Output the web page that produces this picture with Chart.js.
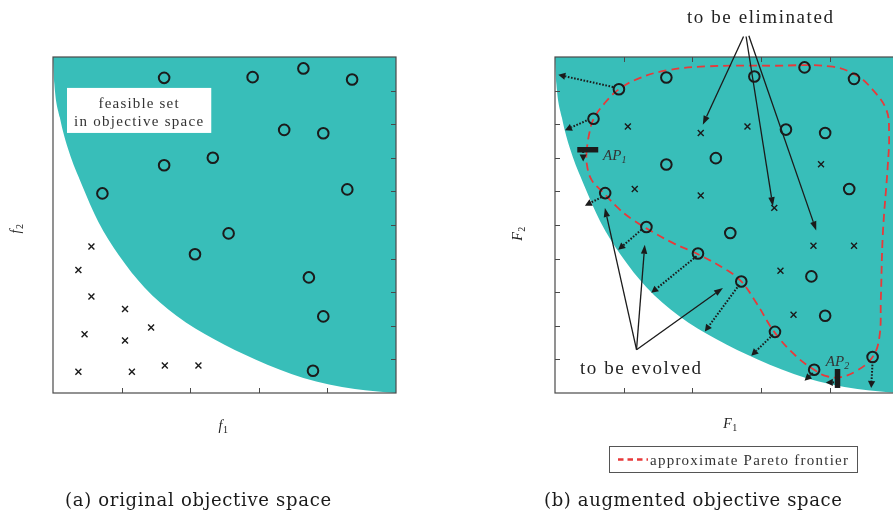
<!DOCTYPE html>
<html>
<head>
<meta charset="utf-8">
<script src="https://cdn.jsdelivr.net/npm/chart.js@4.4.1/dist/chart.umd.min.js"></script>
<style>
  html, body { margin: 0; padding: 0; background: #fff; width: 893px; height: 514px; overflow: hidden; position: relative; }
  canvas { position: absolute; top: 0; }
  #ca { left: 0; }
  #cb { left: 446px; }
</style>
</head>
<body>
<canvas id="ca" width="446" height="514"></canvas>
<canvas id="cb" width="460" height="514"></canvas>
<script>
// ---- axis ticks ----
const TICKS_1 = [1, 2, 3, 4];
const TICKS_2 = [1, 2, 3, 4, 5, 6, 7, 8, 9];

// ---- edge of the feasible set (objective 1, objective 2) ----
const edgeF1 = [0, 0.02, 0.1, 0.23, 0.42, 0.66, 0.96, 1.33, 1.8, 2.35, 2.95, 3.65, 4.4, 5.0];
const edgeF2 = [10, 9.2, 8.2, 7.2, 6.2, 5.1, 4.1, 3.15, 2.3, 1.6, 1.0, 0.45, 0.12, 0];

// ---- (a) original objective space ----
const origSolF1 = [1.62, 2.91, 3.65, 4.36, 3.37, 3.94, 2.33, 1.62, 0.72, 4.29, 2.56, 2.07, 3.73, 3.94, 3.79];
const origSolF2 = [9.38, 9.40, 9.66, 9.33, 7.83, 7.73, 7.00, 6.78, 5.94, 6.06, 4.75, 4.13, 3.44, 2.28, 0.66];
const origInfF1 = [0.56, 0.37, 0.56, 1.05, 1.43, 0.46, 1.05, 0.37, 1.15, 1.63, 2.12];
const origInfF2 = [4.36, 3.66, 2.87, 2.50, 1.95, 1.75, 1.56, 0.63, 0.63, 0.82, 0.82];

// ---- (b) augmented objective space ----
const augSolF1 = [0.93, 1.62, 2.90, 3.63, 4.35, 0.56, 3.36, 3.93, 2.34, 1.62, 0.73, 4.28, 1.33, 2.55, 2.08, 3.73, 2.71, 3.93, 3.20, 4.62, 3.77];
const augSolF2 = [9.04, 9.39, 9.42, 9.69, 9.35, 8.16, 7.84, 7.74, 6.99, 6.80, 5.95, 6.07, 4.94, 4.76, 4.15, 3.47, 3.32, 2.30, 1.82, 1.07, 0.69];
const augInfF1 = [1.06, 2.12, 2.80, 3.87, 1.16, 2.12, 3.19, 3.76, 4.35, 3.28, 3.47];
const augInfF2 = [7.93, 7.74, 7.93, 6.81, 6.07, 5.88, 5.51, 4.38, 4.38, 3.64, 2.33];

// approximate Pareto frontier (closed loop)
const paretoF1 = [0.46, 0.46, 0.53, 0.70, 0.92, 1.10, 1.33, 1.72, 2.08, 2.49, 2.71, 2.93, 3.20, 3.51, 3.77, 3.95, 4.15, 4.38, 4.62, 4.72, 4.74, 4.77, 4.84, 4.86, 4.82, 4.62, 4.38, 4.00, 3.17, 2.20, 1.62, 1.23, 0.93, 0.72, 0.56, 0.50, 0.46];
const paretoF2 = [7.24, 6.85, 6.35, 5.97, 5.50, 5.20, 4.90, 4.46, 4.13, 3.67, 3.32, 2.68, 1.79, 1.09, 0.69, 0.50, 0.47, 0.65, 1.07, 1.68, 2.78, 4.76, 6.74, 7.74, 8.43, 9.03, 9.46, 9.72, 9.74, 9.72, 9.60, 9.37, 9.04, 8.62, 8.15, 7.74, 7.24];

// evolution directions [from F1, from F2, to F1, to F2]
const evolveMoves = [
  [0.846, 9.107, 0.048, 9.47],
  [0.46, 8.11, 0.145, 7.82],
  [0.678, 5.83, 0.435, 5.575],
  [1.258, 4.86, 0.919, 4.26],
  [2.06, 4.07, 1.40, 2.98],
  [2.68, 3.22, 2.18, 1.83],
  [3.17, 1.735, 2.855, 1.11],
  [3.75, 0.595, 3.63, 0.366],
  [4.62, 0.94, 4.60, 0.15],
  [0.41, 7.19, 0.41, 6.89],
  [4.06, 0.315, 3.94, 0.315]
];
// anchor points AP1 (horizontal bar) and AP2 (vertical bar): [F1a, F2a, F1b, F2b]
const anchorBars = [[0.324, 7.24, 0.629, 7.24], [4.11, 0.15, 4.11, 0.714]];
const anchorNames = ['1', '2'];
const anchorLabelAt = [[0.70, 7.09], [3.94, 0.94]];
// callouts: targets of "to be eliminated" and "to be evolved"
const elimFrom = [[2.743, 10.61], [2.78, 10.61], [2.82, 10.63]];
const elimTo = [[2.15, 7.985], [3.17, 5.56], [3.80, 4.84]];
const evolFrom = [1.186, 1.29];
const evolTo = [[0.726, 5.506], [1.306, 4.414], [2.443, 3.125]];

const TEAL = '#38beb9';
const RED = '#e8393a';
const INK = '#1b1b1b';
const SERIF = '"Liberation Serif", "Times New Roman", serif';
const CAPTION = '"DejaVu Serif", "Liberation Serif", serif';

const pts = (xs, ys) => xs.map((x, i) => ({ x, y: ys[i] }));

function arrow(ctx, x1, y1, x2, y2, head, hw) {
  const a = Math.atan2(y2 - y1, x2 - x1);
  const bx = x2 - head * Math.cos(a), by = y2 - head * Math.sin(a);
  ctx.beginPath(); ctx.moveTo(x1, y1); ctx.lineTo(bx, by); ctx.stroke();
  ctx.save(); ctx.setLineDash([]);
  ctx.beginPath(); ctx.moveTo(x2, y2);
  ctx.lineTo(bx + hw * Math.sin(a), by - hw * Math.cos(a));
  ctx.lineTo(bx - hw * Math.sin(a), by + hw * Math.cos(a));
  ctx.closePath(); ctx.fill(); ctx.restore();
}

// writes a string spread over a given width
function spread(ctx, text, x, y, width) {
  ctx.letterSpacing = '0px';
  const w = ctx.measureText(text).width;
  const ls = text.length > 1 ? (width - w) / (text.length - 1) : 0;
  ctx.letterSpacing = ls.toFixed(2) + 'px';
  ctx.textAlign = 'left';
  ctx.fillText(text, x, y);
  ctx.letterSpacing = '0px';
}

function subLabel(ctx, main, sub, cx, cy, rotate) {
  ctx.save();
  ctx.translate(cx, cy);
  if (rotate) ctx.rotate(-Math.PI / 2);
  ctx.fillStyle = '#222';
  ctx.textAlign = 'left'; ctx.textBaseline = 'alphabetic';
  ctx.font = 'italic 14px ' + SERIF;
  const w1 = ctx.measureText(main).width;
  ctx.font = '10px ' + SERIF;
  const w2 = ctx.measureText(sub).width;
  const x0 = -(w1 + w2) / 2;
  ctx.font = 'italic 14px ' + SERIF; ctx.fillText(main, x0, 4);
  ctx.font = '10px ' + SERIF; ctx.fillText(sub, x0 + w1 + 0.5, 7);
  ctx.restore();
}

function frame(chart, sides) {
  const ctx = chart.ctx, a = chart.chartArea, xs = chart.scales.x, ys = chart.scales.y;
  ctx.save();
  ctx.strokeStyle = '#4a4a4a'; ctx.lineWidth = 1.2;
  ctx.strokeRect(a.left, a.top, a.right - a.left, a.bottom - a.top);
  ctx.lineWidth = 1;
  const L = 5;
  ctx.beginPath();
  if (sides.includes('bottom')) TICKS_1.forEach(v => { const p = Math.round(xs.getPixelForValue(v)) + 0.5; ctx.moveTo(p, a.bottom); ctx.lineTo(p, a.bottom - L); });
  if (sides.includes('top')) TICKS_1.forEach(v => { const p = Math.round(xs.getPixelForValue(v)) + 0.5; ctx.moveTo(p, a.top); ctx.lineTo(p, a.top + L); });
  if (sides.includes('left')) TICKS_2.forEach(v => { const p = Math.round(ys.getPixelForValue(v)) + 0.5; ctx.moveTo(a.left, p); ctx.lineTo(a.left + L, p); });
  if (sides.includes('right')) TICKS_2.forEach(v => { const p = Math.round(ys.getPixelForValue(v)) + 0.5; ctx.moveTo(a.right, p); ctx.lineTo(a.right - L, p); });
  ctx.stroke();
  ctx.restore();
}

const decorA = {
  id: 'decorA',
  afterDatasetsDraw(chart) {
    const ctx = chart.ctx, xs = chart.scales.x, ys = chart.scales.y;
    const X = v => xs.getPixelForValue(v), Y = v => ys.getPixelForValue(v);
    ctx.save();
    // label box for the feasible region
    ctx.fillStyle = '#fff';
    ctx.fillRect(X(0.204), Y(9.08), X(2.307) - X(0.204), Y(7.74) - Y(9.08));
    ctx.fillStyle = '#333';
    ctx.font = '15px ' + SERIF; ctx.textBaseline = 'alphabetic';
    const cx = X(1.255);
    spread(ctx, 'feasible set', cx - 40.5, 107.5, 80);
    spread(ctx, 'in objective space', cx - 65, 125.5, 129);
    ctx.restore();
    frame(chart, ['right', 'bottom']);
    ctx.save();
    subLabel(ctx, 'f', '2', 16, 229, true);
    subLabel(ctx, 'f', '1', 223, 426, false);
    ctx.fillStyle = '#1a1a1a';
    ctx.font = '18px ' + CAPTION; ctx.textBaseline = 'alphabetic';
    spread(ctx, '(a) original objective space', 65, 506, 266);
    ctx.restore();
  }
};

const decorB = {
  id: 'decorB',
  afterDatasetsDraw(chart) {
    const ctx = chart.ctx, xs = chart.scales.x, ys = chart.scales.y;
    const X = v => xs.getPixelForValue(v), Y = v => ys.getPixelForValue(v);
    frame(chart, ['left', 'top', 'bottom']);
    ctx.save();
    // dotted evolution moves
    ctx.strokeStyle = INK; ctx.fillStyle = INK; ctx.lineWidth = 2;
    ctx.setLineDash([1.6, 1.6]);
    evolveMoves.forEach(m => arrow(ctx, X(m[0]), Y(m[1]), X(m[2]), Y(m[3]), 7, 3.6));
    ctx.setLineDash([]);
    // anchor bars
    ctx.lineWidth = 5.5; ctx.lineCap = 'butt';
    anchorBars.forEach(b => { ctx.beginPath(); ctx.moveTo(X(b[0]), Y(b[1])); ctx.lineTo(X(b[2]), Y(b[3])); ctx.stroke(); });
    ctx.fillStyle = '#333';
    anchorLabelAt.forEach((p, i) => {
      const x = X(p[0]), y = Y(p[1]);
      ctx.font = 'italic 15px ' + SERIF; ctx.textAlign = 'left'; ctx.textBaseline = 'alphabetic';
      ctx.fillText('AP', x, y + 5);
      const w = ctx.measureText('AP').width;
      ctx.font = 'italic 10px ' + SERIF;
      ctx.fillText(anchorNames[i], x + w, y + 8);
    });
    // callout arrows
    ctx.strokeStyle = INK; ctx.fillStyle = INK; ctx.lineWidth = 1.3;
    elimFrom.forEach((f, i) => arrow(ctx, X(f[0]), Y(f[1]), X(elimTo[i][0]), Y(elimTo[i][1]), 9, 3.2));
    evolTo.forEach(t => arrow(ctx, X(evolFrom[0]), Y(evolFrom[1]), X(t[0]), Y(t[1]), 9, 3.2));
    ctx.fillStyle = '#222';
    ctx.font = '19px ' + SERIF; ctx.textBaseline = 'alphabetic';
    spread(ctx, 'to be eliminated', 241, 23, 146);
    spread(ctx, 'to be evolved', 134, 374, 121);
    // axis names
    subLabel(ctx, 'F', '2', 72, 234, true);
    subLabel(ctx, 'F', '1', 284, 424, false);
    // legend
    ctx.strokeStyle = '#555'; ctx.lineWidth = 1;
    ctx.strokeRect(163.5, 446.5, 248, 26);
    ctx.strokeStyle = RED; ctx.lineWidth = 2.4; ctx.setLineDash([5.5, 4]);
    ctx.beginPath(); ctx.moveTo(172, 459.5); ctx.lineTo(202, 459.5); ctx.stroke();
    ctx.setLineDash([]);
    ctx.fillStyle = '#333';
    ctx.font = '15px ' + SERIF;
    spread(ctx, 'approximate Pareto frontier', 204, 464.5, 198);
    // caption
    ctx.fillStyle = '#1a1a1a';
    ctx.font = '18px ' + CAPTION;
    spread(ctx, '(b) augmented objective space', 98, 506, 298);
    ctx.restore();
  }
};

function scales() {
  return {
    x: { type: 'linear', min: 0, max: 5, display: false },
    y: { type: 'linear', min: 0, max: 10, display: false }
  };
}

const feasible = () => ({
  type: 'line', data: pts(edgeF1, edgeF2), order: 10,
  borderWidth: 0, borderColor: 'rgba(0,0,0,0)', backgroundColor: TEAL,
  fill: 'end', pointRadius: 0, cubicInterpolationMode: 'monotone'
});
const solutions = (xs, ys) => ({
  type: 'scatter', data: pts(xs, ys), order: 1,
  pointStyle: 'circle', pointRadius: 5.3, borderWidth: 2,
  borderColor: INK, backgroundColor: 'rgba(0,0,0,0)'
});
const infeasible = (xs, ys) => ({
  type: 'scatter', data: pts(xs, ys), order: 2,
  pointStyle: 'crossRot', pointRadius: 4.2, borderWidth: 1.4,
  borderColor: INK, backgroundColor: INK
});

const common = (padding) => ({
  responsive: false, animation: false, devicePixelRatio: 1,
  layout: { padding },
  scales: scales(),
  plugins: { legend: { display: false }, tooltip: { enabled: false } },
  elements: { line: { borderJoinStyle: 'round' } }
});

new Chart(document.getElementById('ca'), {
  type: 'scatter',
  data: { datasets: [
    feasible(),
    solutions(origSolF1, origSolF2),
    infeasible(origInfF1, origInfF2)
  ] },
  options: common({ left: 53, top: 57, right: 50, bottom: 121 }),
  plugins: [decorA]
});

new Chart(document.getElementById('cb'), {
  type: 'scatter',
  data: { datasets: [
    feasible(),
    {
      type: 'line', label: 'approximate Pareto frontier', data: pts(paretoF1, paretoF2), order: 5,
      borderColor: RED, borderWidth: 1.8, borderDash: [8, 5], fill: false,
      pointRadius: 0, tension: 0.4
    },
    solutions(augSolF1, augSolF2),
    infeasible(augInfF1, augInfF2)
  ] },
  options: common({ left: 109, top: 57, right: 6, bottom: 121 }),
  plugins: [decorB]
});
</script>
</body>
</html>
